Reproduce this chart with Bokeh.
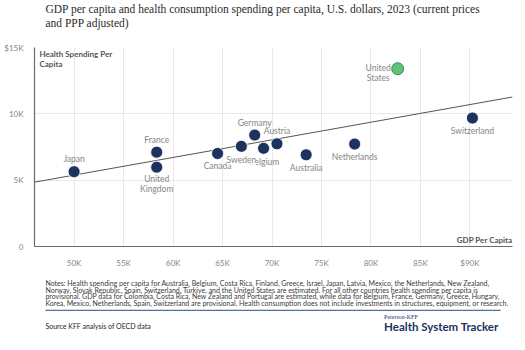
from bokeh.plotting import figure
from bokeh.models import Range1d, FixedTicker, ColumnDataSource
from bokeh.models.glyphs import Text
from bokeh.layouts import column
from bokeh.core.properties import value
from bokeh.embed import file_html
from bokeh.resources import INLINE

# ---------------- data ----------------
countries = ["Japan", "France", "United Kingdom", "Canada", "Sweden", "Germany",
             "Belgium", "Austria", "Australia", "Netherlands", "United States", "Switzerland"]
gdp_per_capita = [50000, 58350, 58350, 64500, 66900, 68250, 69150, 70500, 73450, 78350, 82700, 90250]
health_per_capita = [5640, 7110, 5980, 7010, 7550, 8400, 7400, 7740, 6910, 7720, 13400, 9680]
highlight = "United States"

trend_gdp = [46000, 94300]
trend_health = [4850, 11270]

x_ticks = [50000, 55000, 60000, 65000, 70000, 75000, 80000, 85000, 90000]
x_tick_labels = ["50K", "55K", "60K", "65K", "70K", "75K", "80K", "85K", "$90K"]
y_ticks = [0, 5000, 10000, 15000]
y_tick_labels = ["0", "5K", "10K", "$15K"]

title_lines = ["GDP per capita and health consumption spending per capita, U.S. dollars, 2023 (current prices",
               "and PPP adjusted)"]
y_title = "Health Spending Per\nCapita"
x_title = "GDP Per Capita"
notes_lines = [
    "Notes: Health spending per capita for Australia, Belgium, Costa Rica, Finland, Greece, Israel, Japan, Latvia, Mexico, the Netherlands, New Zealand,",
    "Norway, Slovak Republic, Spain, Switzerland, Türkiye, and the United States are estimated. For all other countries health spending per capita is",
    "provisional. GDP data for Colombia, Costa Rica, New Zealand and Portugal are estimated, while data for Belgium, France, Germany, Greece, Hungary,",
    "Korea, Mexico, Netherlands, Spain, Switzerland are provisional. Health consumption does not include investments in structures, equipment, or research.",
]
source_text = "Source KFF analysis of OECD data"
brand_small = "Peterson-KFF"
brand_big = "Health System Tracker"

# label display text (content) and placement (style)
label_text = {"United Kingdom": "United\nKingdom", "United States": "United\nStates"}
label_offset = {
    "Japan": (0, -12.5), "France": (0, -12.5), "United Kingdom": (0, 17),
    "Canada": (0, 12.8), "Sweden": (0, 13.3), "Germany": (0, -12.5),
    "Belgium": (0.5, 13.3), "Austria": (0, -13.2), "Australia": (0, 13),
    "Netherlands": (0, 12.8), "United States": (-19.5, 4), "Switzerland": (0, 13),
}

NAVY = "#1c325f"
GREEN = "#5cc476"
FONT = "Lato"

# ---------------- title figure ----------------
def text_fig(h, y0):
    f = figure(width=525, height=h, x_range=Range1d(0, 525), y_range=Range1d(y0 + h, y0),
               output_backend="svg", toolbar_location=None, x_axis_location=None,
               y_axis_location=None, min_border=0, outline_line_color=None)
    f.xgrid.visible = False
    f.ygrid.visible = False
    return f

def put(f, x, y, txt, size, color, font=FONT, style="normal", align="left"):
    f.text(x=[x], y=[y], text=[txt], text_font=value(font), text_font_size=size,
           text_color=color, text_font_style=style, text_align=align, text_baseline="middle")

top = text_fig(40, 0)
put(top, 12, 8.5, title_lines[0], "11.5px", "#2a2a2a", font="Liberation Serif")
put(top, 12, 22, title_lines[1], "11.5px", "#2a2a2a", font="Liberation Serif")

# ---------------- main chart ----------------
p = figure(width=525, height=230, x_range=Range1d(46000, 94300), y_range=Range1d(0, 15000),
           output_backend="svg", toolbar_location=None,
           min_border_left=34, min_border_right=13, min_border_top=7, min_border_bottom=19)
p.outline_line_color = None
p.background_fill_color = "white"

for ax, ticks, labels in ((p.xaxis[0], x_ticks, x_tick_labels), (p.yaxis[0], y_ticks, y_tick_labels)):
    ax.ticker = FixedTicker(ticks=ticks)
    ax.major_label_overrides = {t: l for t, l in zip(ticks, labels)}
    ax.major_tick_line_color = None
    ax.minor_tick_line_color = None
    ax.axis_line_color = "#6b6b6b"
    ax.axis_line_width = 1.2
    ax.major_label_text_font = FONT
    ax.major_label_text_font_size = "8px"
    ax.major_label_text_color = "#858585"
    ax.major_label_standoff = 5

p.xgrid.ticker = FixedTicker(ticks=x_ticks)
p.ygrid.ticker = FixedTicker(ticks=y_ticks)
p.xgrid.grid_line_color = "#e8e8e8"
p.ygrid.grid_line_color = "#e8e8e8"

p.line(trend_gdp, trend_health, line_color="#555555", line_width=1)

lab_x, lab_y, lab_t, lab_dx, lab_dy = [], [], [], [], []
bg_x, bg_y, bg_t, bg_dx, bg_dy = [], [], [], [], []
for c, gx, hy in zip(countries, gdp_per_capita, health_per_capita):
    dx, dy = label_offset[c]
    target = (bg_x, bg_y, bg_t, bg_dx, bg_dy) if c == "Sweden" else (lab_x, lab_y, lab_t, lab_dx, lab_dy)
    target[0].append(gx); target[1].append(hy); target[2].append(label_text.get(c, c))
    target[3].append(dx); target[4].append(dy)

lab_src = ColumnDataSource(dict(x=lab_x, y=lab_y, text=lab_t, dx=lab_dx, dy=lab_dy))
p.text(x="x", y="y", text="text", x_offset="dx", y_offset="dy", source=lab_src,
       text_font=value(FONT), text_font_size="8.5px", text_color="#858585",
       text_align="center", text_baseline="middle", text_line_height=1.0)

bg_src = ColumnDataSource(dict(x=bg_x, y=bg_y, text=bg_t, dx=bg_dx, dy=bg_dy))
extra = {}
if "background_fill_color" in Text.properties():
    extra["background_fill_color"] = "white"
p.text(x="x", y="y", text="text", x_offset="dx", y_offset="dy", source=bg_src,
       text_font=value(FONT), text_font_size="8.5px", text_color="#858585",
       text_align="center", text_baseline="middle", **extra)

colors = [GREEN if c == highlight else NAVY for c in countries]
outlines = ["#2f6b3d" if c == highlight else "white" for c in countries]
pt_src = ColumnDataSource(dict(x=gdp_per_capita, y=health_per_capita, color=colors, outline=outlines))
p.scatter(x="x", y="y", source=pt_src, size=12, fill_color="color", line_color="outline", line_width=0.8)

# axis titles inside plot
p.text(x=[46000], y=[15000], text=[y_title], x_offset=5, y_offset=1, text_font=value(FONT),
       text_font_size="8px", text_font_style="bold", text_color="#555555",
       text_align="left", text_baseline="top", text_line_height=1.05)
p.text(x=[94300], y=[0], text=[x_title], x_offset=0, y_offset=-6.5, text_font=value(FONT),
       text_font_size="8px", text_font_style="bold", text_color="#555555",
       text_align="right", text_baseline="middle")

# ---------------- footer ----------------
bot = text_fig(80, 270)
note_ys = [282.5, 289.2, 295.9, 302.6]
for ln, yy in zip(notes_lines, note_ys):
    put(bot, 12, yy, ln, "7px", "#3a3a3a")
bot.line([12, 512], [309.8, 309.8], line_color="#2d4c80", line_width=1)
put(bot, 12, 325.5, source_text, "7px", "#222222")
put(bot, 384, 316, brand_small, "6px", NAVY, font="Liberation Serif")
put(bot, 384, 325.5, brand_big, "11.5px", NAVY, style="bold")

layout = column(top, p, bot, spacing=0)
open("out.html", "w").write(file_html(layout, INLINE))
